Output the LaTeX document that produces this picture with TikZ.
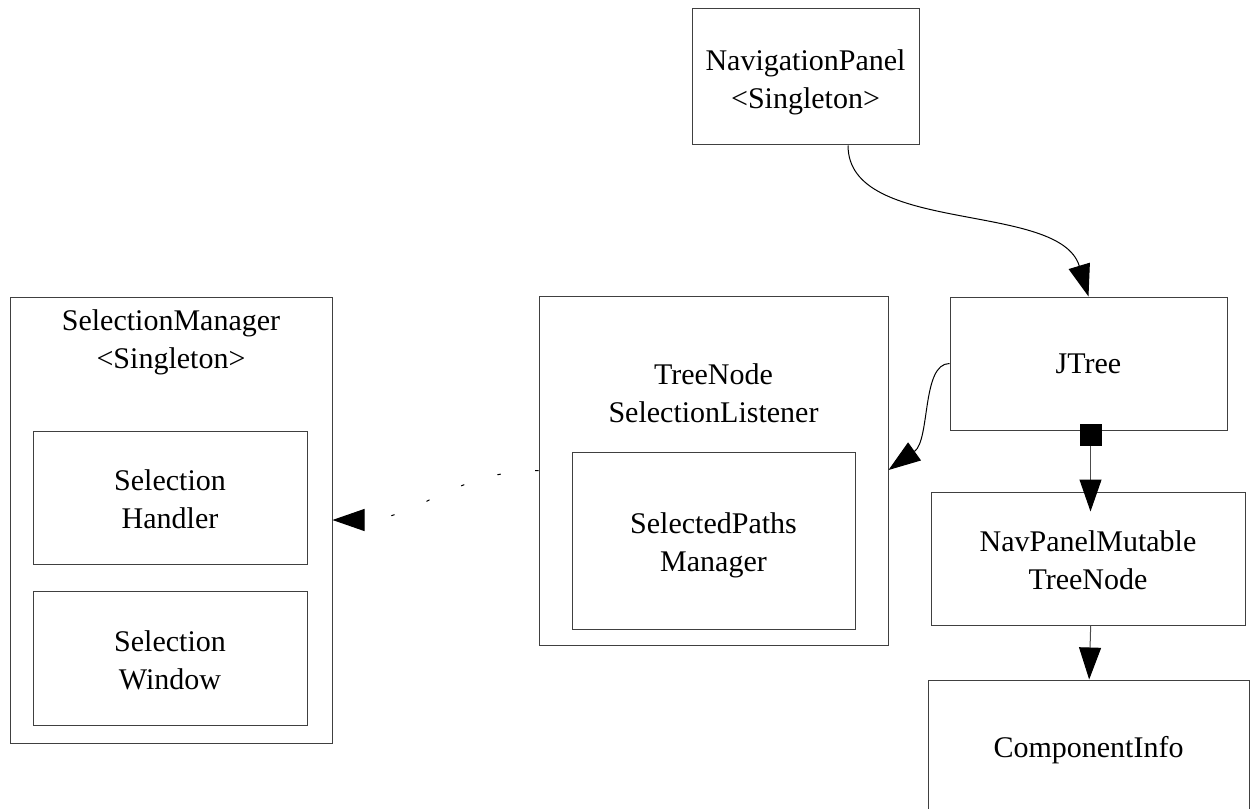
\documentclass[tikz,border=0pt]{standalone}
\usepackage{fontspec}
\setmainfont{Liberation Serif}
\usetikzlibrary{arrows.meta}
\tikzset{
  box/.style={draw=black!75, line width=0.75pt, inner sep=0pt, rectangle, align=center,
              font=\fontsize{22.5}{28.5}\selectfont},
  twoline/.style={text height=52pt, text depth=5pt},
  lbl/.style={inner sep=0pt, align=center, font=\fontsize{22.5}{28.5}\selectfont},
  conn/.style={draw=black, line width=0.75pt, -{Triangle[length=24pt,width=16.5pt,color=black]}},
  comp/.style={draw=black!70, line width=0.75pt,
               {Square[length=16.5pt,width=16.5pt,color=black]}-{Triangle[length=24pt,width=16.5pt,color=black]}},
  dep/.style={conn, dash pattern=on 2.5pt off 26pt}
}
\begin{document}
\begin{tikzpicture}[x=0.75pt,y=-0.75pt]
\useasboundingbox (0,0) rectangle (1252,809);
\clip (0,0) rectangle (1252,809);
% boxes
\node[box, twoline, minimum width=170.25pt, minimum height=102pt] (navpanel) at (805.5,77) {NavigationPanel\\\textless Singleton\textgreater};
\node[box, minimum width=207.75pt, minimum height=99.75pt] (jtree) at (1088.5,363.5) {JTree};
\node[box, minimum width=261.75pt, minimum height=261.75pt] (tnsl) at (713.5,470.5) {};
\node[lbl] (tnsllabel) at (713.5,393) {TreeNode\\SelectionListener};
\node[box, twoline, minimum width=212.25pt, minimum height=132.75pt] (spm) at (713.5,540.5) {SelectedPaths\\Manager};
\node[box, minimum width=241.5pt, minimum height=334.5pt] (selmgr) at (171,520) {};
\node[lbl] (selmgrlabel) at (171,342) {SelectionManager\\\textless Singleton\textgreater};
\node[box, twoline, minimum width=205.5pt, minimum height=99.75pt] (handler) at (170,497.5) {Selection\\Handler};
\node[box, twoline, minimum width=205.5pt, minimum height=100.5pt] (window) at (170,658) {Selection\\Window};
\node[box, twoline, minimum width=235.5pt, minimum height=99.75pt] (navp) at (1088,558.5) {NavPanelMutable\\TreeNode};
\node[box, minimum width=240.75pt, minimum height=105pt] (compinfo) at (1088.5,750) {ComponentInfo};
% connectors
\draw[conn] ([xshift=31.9pt]navpanel.south) .. controls +(0,-67.5pt) and +(-21.75pt,72pt) .. (jtree.north);
\draw[conn] (jtree.west) .. controls +(-21pt,0pt) and +(31.5pt,22.5pt) .. (tnsl.east |- 0,470);
\draw[dep] (tnsl.west) to[out=180,in=0] (selmgr.east);
\draw[comp] ([xshift=1.5pt,yshift=5.25pt]jtree.south) -- ([xshift=1.5pt,yshift=-15pt]jtree.south |- navp.north);
\draw[conn, draw=black!70] ([xshift=2pt]navp.south) -- ([xshift=0.5pt]compinfo.north);
\end{tikzpicture}
\end{document}
